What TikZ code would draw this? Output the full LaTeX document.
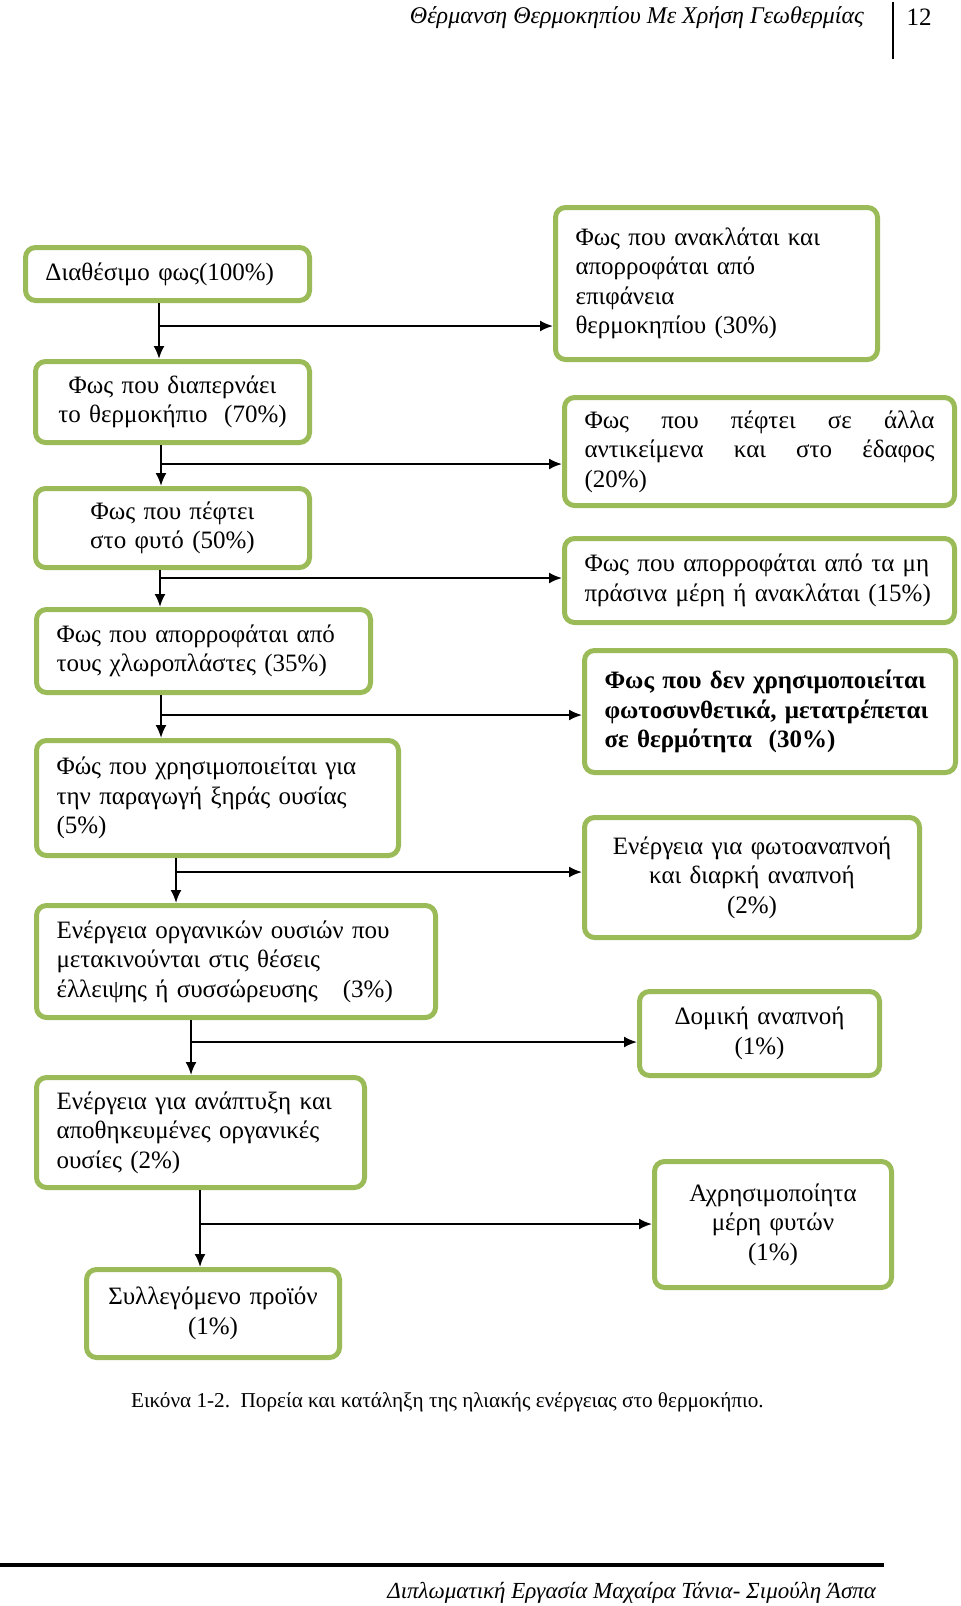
\documentclass[tikz,border=0pt]{standalone}
\usepackage{fontspec}
\setmainfont{Liberation Serif}
\usetikzlibrary{arrows.meta}
\definecolor{boxgreen}{RGB}{155,187,89}

\begin{document}
\begin{tikzpicture}[x=0.5pt,y=-0.5pt,
    box/.style={draw=boxgreen,line width=2.5pt,rounded corners=5pt,fill=white,
        inner xsep=10pt,inner ysep=0pt,font=\fontsize{12.5}{14.75}\selectfont},
    arr/.style={-{Latex[length=6.5pt,width=5.5pt]},line width=1pt}]
    \useasboundingbox (0,0) rectangle (960,1606);
    % Header
    \node (title) at (871,17.5) [anchor=east,font=\fontsize{12}{14}\selectfont\itshape] {Θέρμανση Θερμοκηπίου Με Χρήση Γεωθερμίας};
    \node (page) at (919,17.5) [font=\fontsize{12.5}{14}\selectfont] {12};
    \draw[line width=1pt] (893,2) -- (893,59);
    % Left column
    \node (avail) at (167.5,274) [box,text width=122pt,minimum height=26.5pt,align=left] {Διαθέσιμο φως(100\%)};
    \node (through) at (172.5,402) [box,text width=117pt,minimum height=40.5pt,align=center] {Φως που διαπερνάει\\το θερμοκήπιο \ (70\%)};
    \node (plant) at (172.5,528) [box,text width=117pt,minimum height=39.5pt,align=center] {Φως που πέφτει\\στο φυτό (50\%)};
    \node (chloro) at (203.5,651) [box,text width=147pt,minimum height=41.5pt,align=left] {Φως που απορροφάται από\\τους χλωροπλάστες (35\%)};
    \node (dry) at (217.5,798) [box,text width=161pt,minimum height=57.5pt,align=left] {Φώς που χρησιμοποιείται για\\την παραγωγή ξηράς ουσίας\\(5\%)};
    \node (organic) at (236,961.5) [box,text width=179.5pt,minimum height=56pt,align=left] {Ενέργεια οργανικών ουσιών που\\μετακινούνται στις θέσεις\\έλλειψης ή συσσώρευσης\ \ \ (3\%)};
    \node (growth) at (200.5,1132.5) [box,text width=144pt,minimum height=55pt,align=left] {Ενέργεια για ανάπτυξη και\\αποθηκευμένες οργανικές\\ουσίες (2\%)};
    \node (crop) at (213,1313.5) [box,text width=106.5pt,minimum height=44pt,align=center] {Συλλεγόμενο προϊόν\\(1\%)};
    % Right column
    \node (refl) at (716.5,283.5) [box,text width=141pt,minimum height=76pt,align=left] {Φως που ανακλάται και\\απορροφάται από\\επιφάνεια\\θερμοκηπίου (30\%)};
    \node (objects) at (759.5,451.5) [box,text width=175pt,minimum height=54pt,align=left] {Φως\hfill που\hfill πέφτει\hfill σε\hfill άλλα\\αντικείμενα\hfill και\hfill στο\hfill έδαφος\\(20\%)};
    \node (nongreen) at (759.5,580.5) [box,text width=175pt,minimum height=42pt,align=left] {Φως που απορροφάται από τα μη\\πράσινα μέρη ή ανακλάται (15\%)};
    \node (heat) at (770,711.5) [box,text width=165.5pt,minimum height=61pt,align=left,font=\fontsize{12.5}{14.75}\selectfont\bfseries] {Φως που δεν χρησιμοποιείται\\φωτοσυνθετικά, μετατρέπεται\\σε θερμότητα \ (30\%)};
    \node (resp) at (752,877.5) [box,text width=147.5pt,minimum height=60pt,align=center] {Ενέργεια για φωτοαναπνοή\\και διαρκή αναπνοή\\(2\%)};
    \node (struct) at (759.5,1033.5) [box,text width=100pt,minimum height=42pt,align=center] {Δομική αναπνοή\\(1\%)};
    \node (unused) at (773,1224.5) [box,text width=98.5pt,minimum height=63pt,align=center] {Αχρησιμοποίητα\\μέρη φυτών\\(1\%)};
    % Branch points
    \coordinate (j1) at (159,326);
    \coordinate (j2) at (161,464);
    \coordinate (j3) at (160,578);
    \coordinate (j4) at (161,715);
    \coordinate (j5) at (176,872);
    \coordinate (j6) at (191,1042);
    \coordinate (j7) at (200,1224);
    % Flow down
    \draw[arr] (j1 |- avail.south) -- (j1 |- through.north);
    \draw[arr] (j2 |- through.south) -- (j2 |- plant.north);
    \draw[arr] (j3 |- plant.south) -- (j3 |- chloro.north);
    \draw[arr] (j4 |- chloro.south) -- (j4 |- dry.north);
    \draw[arr] (j5 |- dry.south) -- (j5 |- organic.north);
    \draw[arr] (j6 |- organic.south) -- (j6 |- growth.north);
    \draw[arr] (j7 |- growth.south) -- (j7 |- crop.north);
    % Losses to the right
    \draw[arr] (j1) -- (j1 -| refl.west);
    \draw[arr] (j2) -- (j2 -| objects.west);
    \draw[arr] (j3) -- (j3 -| nongreen.west);
    \draw[arr] (j4) -- (j4 -| heat.west);
    \draw[arr] (j5) -- (j5 -| resp.west);
    \draw[arr] (j6) -- (j6 -| struct.west);
    \draw[arr] (j7) -- (j7 -| unused.west);
    % Caption and footer
    \node (caption) at (124,1402) [anchor=west,font=\fontsize{10.6}{12}\selectfont] {Εικόνα 1-2.\ \ Πορεία και κατάληξη της ηλιακής ενέργειας στο θερμοκήπιο.};
    \draw[line width=2pt] (0,1565) -- (884,1565);
    \node (author) at (883,1593) [anchor=east,font=\fontsize{11.5}{13}\selectfont\itshape] {Διπλωματική Εργασία Μαχαίρα Τάνια- Σιμούλη Άσπα};
\end{tikzpicture}
\end{document}
